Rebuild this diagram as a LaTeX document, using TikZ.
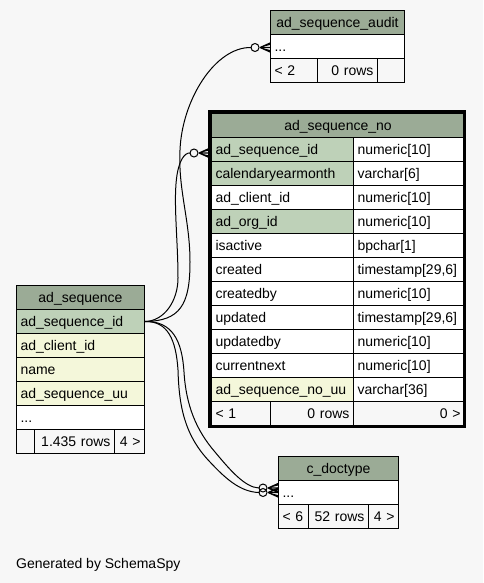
\documentclass[tikz,border=0pt]{standalone}
\usepackage{fontspec}
\setmainfont{Liberation Sans}
\definecolor{bg}{HTML}{F7F7F7}
\definecolor{hd}{HTML}{9BAB96}
\definecolor{pk}{HTML}{BED1B8}
\definecolor{ix}{HTML}{F4F7DA}
\newcommand{\cellfs}{\fontsize{14pt}{16pt}\selectfont}
\begin{document}
\begin{tikzpicture}[x=1pt,y=-1pt,
  cell/.style={draw=black, line width=1pt, anchor=north west, inner xsep=4pt, inner ysep=0pt,
    minimum height=24pt, text height=10pt, text depth=0pt, font=\cellfs, fill=white},
  hdr/.style={cell, fill=hd, align=center},
  lft/.style={cell, align=left},
  rgt/.style={cell, align=right},
  footl/.style={cell, fill=bg, align=left},
  footr/.style={cell, fill=bg, align=right},
  conn/.style={draw=black, line width=1pt},
  crowodot/.pic={
    \draw[line width=1pt] (-15,0) circle[radius=4pt];
    \draw[line width=1.1pt] (-10,0) -- (0,-4.5) (-10,0) -- (0,0) (-10,0) -- (0,4.5);
    \fill (-10,0) -- (0,-4.5) -- (0,-2.5) -- cycle (-10,0) -- (0,4.5) -- (0,2.5) -- cycle;
  }
]
\fill[bg] (0,0) rectangle (483,583);
\useasboundingbox (0,0) rectangle (483,583);

% ad_sequence_audit
\node[hdr, text width=126pt] (aud_h) at (270,10) {ad\_sequence\_audit};
\node[lft, text width=126pt] (aud_r) at (270,34) {...};
\node[footl, text width=39pt] (aud_f1) at (270,58) {< 2};
\node[footr, text width=52pt] (aud_f2) at (317,58) {0 rows};
\node[footl, text width=19pt] (aud_f3) at (377,58) {};

% ad_sequence_no
\node[hdr, text width=245pt] (sno_h) at (211,113) {ad\_sequence\_no};
\node[lft, fill=pk, text width=134pt] (sno_id) at (211,137) {ad\_sequence\_id};
\node[lft, text width=103pt] (sno_idt) at (353,137) {numeric[10]};
\node[lft, fill=pk, text width=134pt] (sno_cym) at (211,161) {calendaryearmonth};
\node[lft, text width=103pt] (sno_cymt) at (353,161) {varchar[6]};
\node[lft, text width=134pt] (sno_cl) at (211,185) {ad\_client\_id};
\node[lft, text width=103pt] (sno_clt) at (353,185) {numeric[10]};
\node[lft, fill=pk, text width=134pt] (sno_org) at (211,209) {ad\_org\_id};
\node[lft, text width=103pt] (sno_orgt) at (353,209) {numeric[10]};
\node[lft, text width=134pt] (sno_act) at (211,233) {isactive};
\node[lft, text width=103pt] (sno_actt) at (353,233) {bpchar[1]};
\node[lft, text width=134pt] (sno_cr) at (211,257) {created};
\node[lft, text width=103pt] (sno_crt) at (353,257) {timestamp[29,6]};
\node[lft, text width=134pt] (sno_crb) at (211,281) {createdby};
\node[lft, text width=103pt] (sno_crbt) at (353,281) {numeric[10]};
\node[lft, text width=134pt] (sno_up) at (211,305) {updated};
\node[lft, text width=103pt] (sno_upt) at (353,305) {timestamp[29,6]};
\node[lft, text width=134pt] (sno_upb) at (211,329) {updatedby};
\node[lft, text width=103pt] (sno_upbt) at (353,329) {numeric[10]};
\node[lft, text width=134pt] (sno_cn) at (211,353) {currentnext};
\node[lft, text width=103pt] (sno_cnt) at (353,353) {numeric[10]};
\node[lft, fill=ix, text width=134pt] (sno_uu) at (211,377) {ad\_sequence\_no\_uu};
\node[lft, text width=103pt] (sno_uut) at (353,377) {varchar[36]};
\node[footl, text width=51pt] (sno_f1) at (211,401) {< 1};
\node[footr, text width=75pt] (sno_f2) at (270,401) {0 rows};
\node[footr, text width=103pt] (sno_f3) at (353,401) {0 >};
\draw[line width=3pt] (209.6,111.9) rectangle (464.8,426.3);

% ad_sequence
\node[hdr, text width=120pt] (as_h) at (16,285) {ad\_sequence};
\node[lft, fill=pk, text width=120pt] (as_id) at (16,309) {ad\_sequence\_id};
\node[lft, fill=ix, text width=120pt] (as_cl) at (16,333) {ad\_client\_id};
\node[lft, fill=ix, text width=120pt] (as_nm) at (16,357) {name};
\node[lft, fill=ix, text width=120pt] (as_uu) at (16,381) {ad\_sequence\_uu};
\node[lft, text width=120pt] (as_r) at (16,405) {...};
\node[footl, text width=10pt] (as_f1) at (16,429) {};
\node[footr, text width=72pt] (as_f2) at (34,429) {1.435 rows};
\node[footr, text width=22pt] (as_f3) at (114,429) {4 >};

% c_doctype
\node[hdr, text width=112pt] (cd_h) at (278,456) {c\_doctype};
\node[lft, text width=112pt] (cd_r) at (278,480) {...};
\node[footl, text width=22pt] (cd_f1) at (278,504) {< 6};
\node[footr, text width=52pt] (cd_f2) at (308,504) {52 rows};
\node[footr, text width=22pt] (cd_f3) at (368,504) {4 >};

% connectors
\draw[conn] (as_id.east) .. controls (180,321) and (190,305) .. (190,262)
  .. controls (190,220) and (178,190) .. (180,150)
  .. controls (182,100) and (215,47) .. ([shift={(-19,1)}]aud_r.west);
\draw[conn] (as_id.east) .. controls (165,321) and (178,300) .. (178,278)
  .. controls (178,240) and (173,200) .. (177,175)
  .. controls (179,162) and (184,152.5) .. ([shift={(-21,3.5)}]sno_id.west);
\draw[conn] (as_id.east) .. controls (172,321) and (182,340) .. (184,372)
  .. controls (186,405) and (196,430) .. (215,452)
  .. controls (230,470) and (245,487.5) .. ([shift={(-19,-4.5)}]cd_r.west);
\draw[conn] (as_id.east) .. controls (168,321) and (176,340) .. (178,370)
  .. controls (179,405) and (184,435) .. (210,462)
  .. controls (225,478) and (240,492) .. ([shift={(-19,0)}]cd_r.west);

\pic at ([shift={(0,1)}]aud_r.west) {crowodot};
\pic at ([shift={(-2,3.5)}]sno_id.west) {crowodot};
\pic at ([shift={(0,-4.5)}]cd_r.west) {crowodot};
\pic at (cd_r.west) {crowodot};

\node[font=\cellfs, anchor=west, inner sep=0pt, text height=10pt, text depth=0pt] (gen) at (16,563) {Generated by SchemaSpy};
\end{tikzpicture}
\end{document}
